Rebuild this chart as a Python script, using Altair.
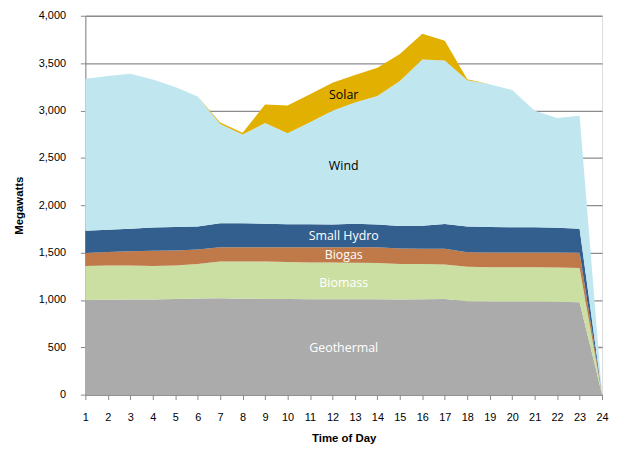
import altair as alt
import pandas as pd

hours = list(range(1, 25))
series = ["Geothermal", "Biomass", "Biogas", "Small Hydro", "Wind", "Solar"]
colors = ["#ABABAB", "#CCDFA3", "#C07A4A", "#335F8F", "#C0E6F0", "#E2B000"]

geothermal = [1000, 1002, 1003, 1005, 1010, 1015, 1017, 1013, 1010, 1010, 1008, 1008,
              1008, 1008, 1005, 1008, 1010, 985, 982, 982, 982, 980, 975, 0]
biomass = [358, 360, 359, 353, 352, 365, 388, 392, 395, 390, 387, 387,
           385, 382, 375, 370, 365, 365, 363, 363, 363, 362, 363, 0]
biogas = [136, 143, 153, 162, 160, 152, 152, 152, 152, 155, 160, 162,
          164, 165, 163, 162, 165, 154, 155, 155, 155, 158, 160, 0]
small_hydro = [237, 235, 237, 245, 248, 244, 251, 251, 248, 245, 243, 240,
               247, 242, 237, 243, 261, 272, 269, 266, 266, 262, 254, 0]
wind = [1604, 1623, 1635, 1563, 1478, 1371, 1050, 938, 1063, 960, 1077, 1200,
        1281, 1357, 1531, 1754, 1726, 1542, 1507, 1450, 1231, 1158, 1192, 0]
solar = [0, 0, 0, 0, 0, 0, 15, 20, 195, 292, 296, 296,
         290, 296, 285, 272, 209, 12, 0, 0, 0, 0, 0, 0]

y_ticks = [0, 500, 1000, 1500, 2000, 2500, 3000, 3500, 4000]

label_text = ["Solar", "Wind", "Small Hydro", "Biogas", "Biomass", "Geothermal"]
label_x = [12.5, 12.5, 12.5, 12.5, 12.5, 12.5]
label_y = [3164, 2411, 1679, 1470, 1177, 497]
label_color = ["black", "black", "white", "white", "white", "white"]

values = [geothermal, biomass, biogas, small_hydro, wind, solar]
rows = []
for i, (name, vals) in enumerate(zip(series, values)):
    for h, v in zip(hours, vals):
        rows.append({"hour": h, "source": name, "mw": v, "order": i})
df = pd.DataFrame(rows)

labels = pd.DataFrame({"text": label_text, "x": label_x, "y": label_y, "c": label_color})

x_scale = alt.Scale(domain=[1, 24], nice=False, zero=False)
y_scale = alt.Scale(domain=[0, 4000], nice=False)

x_axis = alt.Axis(title="Time of Day", values=hours, format="d", grid=False,
                  labelOverlap=False, labelFlush=False,
                  tickColor="#888888", domainColor="#888888", tickSize=5,
                  labelPadding=12, titlePadding=10, labelFont="Liberation Sans",
                  labelFontSize=11, labelColor="#000000", titleFont="Liberation Sans",
                  titleFontSize=11.5, titleFontWeight="bold", titleColor="#000000")
y_axis = alt.Axis(title="Megawatts", values=y_ticks, format=",.0f",
                  grid=True, gridColor="#8C8C8C", gridWidth=1.3,
                  labelOverlap=False, labelFlush=False,
                  tickColor="#888888", domainColor="#888888", tickSize=5,
                  labelPadding=15, titlePadding=14, labelFont="Liberation Sans",
                  labelFontSize=11, labelColor="#000000", titleFont="Liberation Sans",
                  titleFontSize=11.5, titleFontWeight="bold", titleColor="#000000")

area = alt.Chart(df).mark_area(opacity=1, interpolate="linear").encode(
    x=alt.X("hour:Q", scale=x_scale, axis=x_axis),
    y=alt.Y("mw:Q", stack="zero", scale=y_scale, axis=y_axis),
    color=alt.Color("source:N", scale=alt.Scale(domain=series, range=colors), legend=None),
    order=alt.Order("order:Q", sort="ascending"),
)

text = alt.Chart(labels).mark_text(font="Open Sans", fontSize=12.5, align="center",
                                   baseline="middle").encode(
    x=alt.X("x:Q", scale=x_scale, axis=x_axis),
    y=alt.Y("y:Q", scale=y_scale, axis=y_axis),
    text="text:N",
    color=alt.Color("c:N", scale=None),
)

chart = (area + text).properties(
    width=521, height=382,
    autosize=alt.AutoSizeParams(type="none"),
    padding={"left": 78, "top": 6, "right": 8, "bottom": 52},
).configure_view(stroke=None).configure(background="white")

chart.save("out.html", embed_options={"renderer": "svg", "actions": False})
